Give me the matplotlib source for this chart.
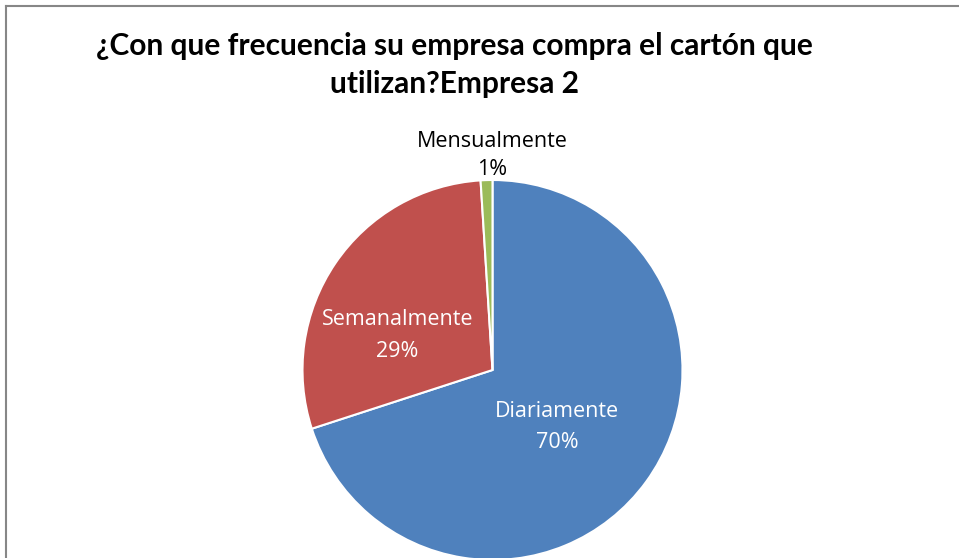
import matplotlib
matplotlib.use("Agg")
import matplotlib.pyplot as plt
from matplotlib.lines import Line2D

categories = ["Diariamente", "Semanalmente", "Mensualmente"]
shares = [70, 29, 1]
colors = ["#4F81BD", "#C0504D", "#9BBB59"]
title = "¿Con que frecuencia su empresa compra el cartón que\nutilizan?Empresa 2"

W, H, DPI = 959, 558, 100
plt.rcParams["font.family"] = ["Lato", "DejaVu Sans"]

fig = plt.figure(figsize=(W / DPI, H / DPI), dpi=DPI)

# pie axes: centre (492.5, 370) px, radius 190 px
cx, cy, r = 492.5, 370, 190
ax = fig.add_axes([(cx - r) / W, (H - cy - r) / H, 2 * r / W, 2 * r / H])
ax.pie(shares, colors=colors, startangle=90, counterclock=False, radius=1,
       wedgeprops=dict(edgecolor="white", linewidth=1.5))
ax.set_xlim(-1, 1)
ax.set_ylim(-1, 1)
ax.set_aspect("equal")
ax.axis("off")

label_pos = [(0.34, -0.30), (-0.50, 0.18), (0.0, 1.13)]
label_col = ["white", "white", "black"]
label_gap = [1.6, 1.7, 1.45]
for name, val, (x, y), c, ls in zip(categories, shares, label_pos, label_col, label_gap):
    ax.text(x, y, f"{name}\n{val}%", ha="center", va="center", fontsize=15.5,
            color=c, linespacing=ls, clip_on=False,
            family=["Open Sans", "DejaVu Sans"])

fig.text(454 / W, 1 - 65 / H, title, ha="center", va="center", fontsize=21.5,
         fontweight="bold", linespacing=1.42)

# chart area border (cropped on right and bottom)
gray = "#878787"
fig.add_artist(Line2D([5.5 / W, 5.5 / W], [0, 1 - 6 / H], color=gray, lw=1.5,
                      transform=fig.transFigure))
fig.add_artist(Line2D([5.5 / W, 1], [1 - 6 / H, 1 - 6 / H], color=gray, lw=1.5,
                      transform=fig.transFigure))

fig.savefig("out.png", dpi=DPI)
